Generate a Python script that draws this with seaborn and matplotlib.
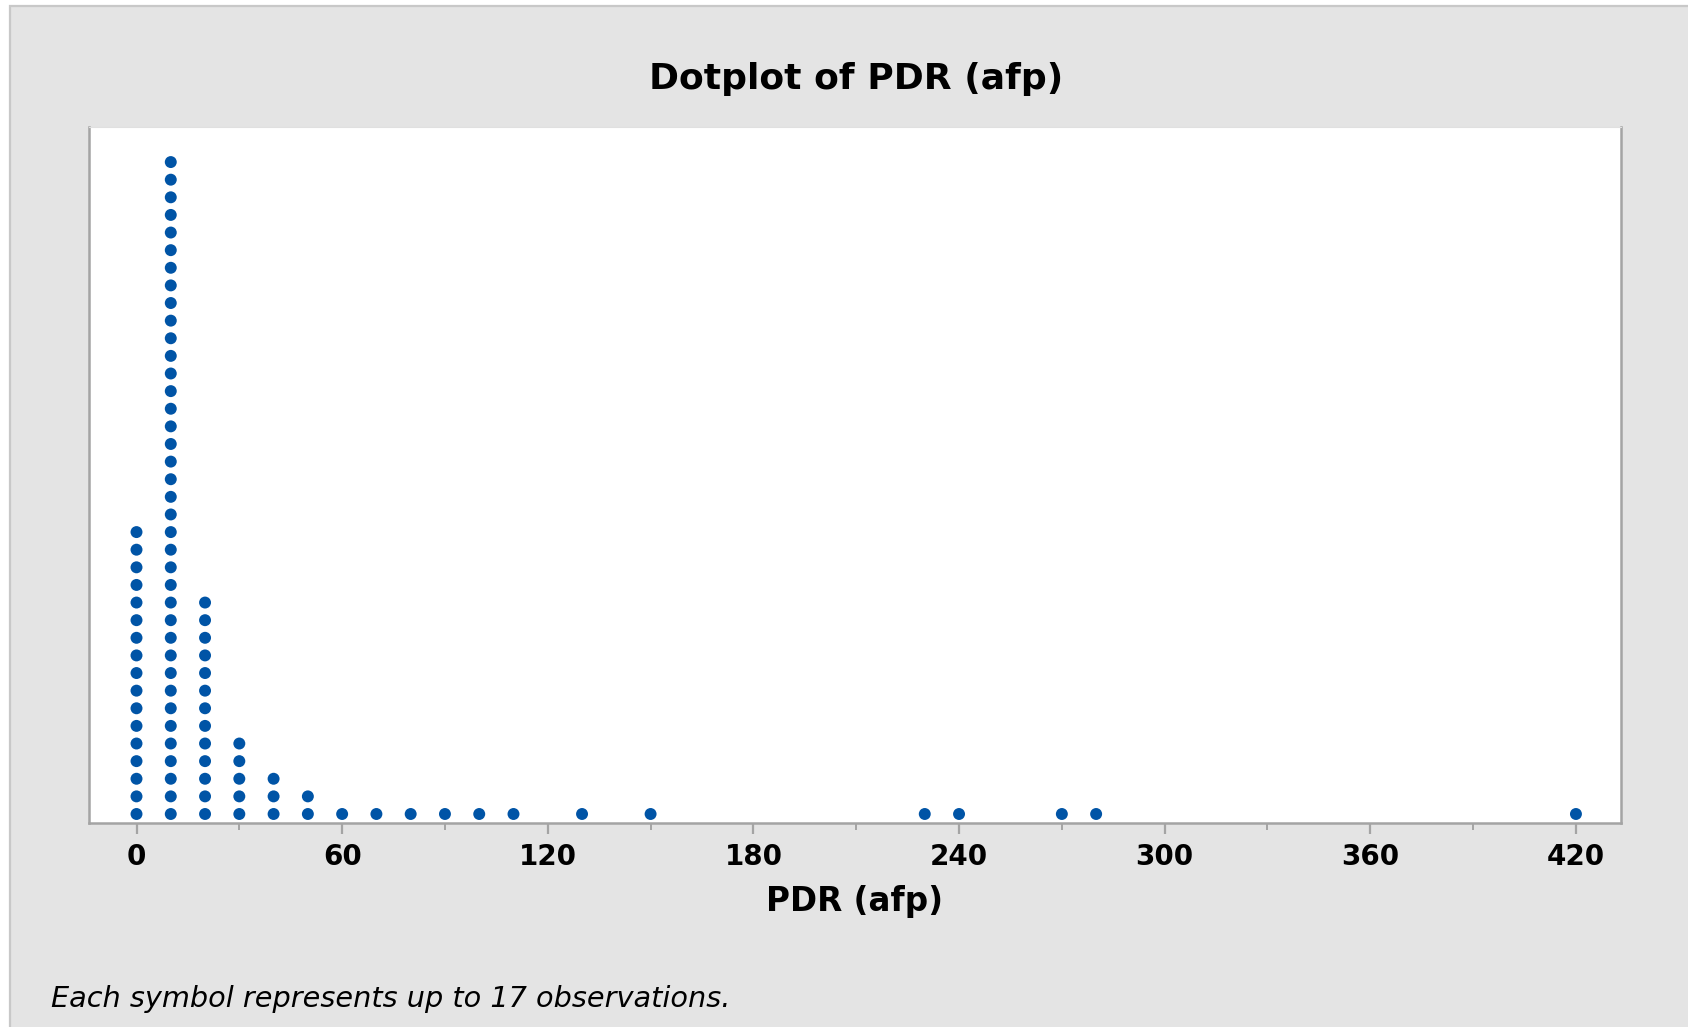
import numpy as np
import pandas as pd
import matplotlib
matplotlib.use("Agg")
import matplotlib.pyplot as plt
from matplotlib.patches import Rectangle
from matplotlib.ticker import MultipleLocator
import seaborn as sns

# ---- data (dot columns) ----
pdr_values = [0, 10, 20, 30, 40, 50, 60, 70, 80, 90, 100, 110, 130, 150, 230, 240, 270, 280, 420]
dot_counts = [17, 38, 13, 5, 3, 2, 1, 1, 1, 1, 1, 1, 1, 1, 1, 1, 1, 1, 1]
x_ticks = [0, 60, 120, 180, 240, 300, 360, 420]
title = "Dotplot of PDR (afp)"
x_label = "PDR (afp)"
footnote = "Each symbol represents up to 17 observations."

rows = []
for v, c in zip(pdr_values, dot_counts):
    for k in range(c):
        rows.append({"PDR": v, "level": k})
df = pd.DataFrame(rows)

sns.set_theme(style="white")
plt.rcParams["font.family"] = ["DejaVu Sans"]

W, H = 1688, 1027
fig = plt.figure(figsize=(W / 100, H / 100), dpi=100, facecolor="white")

# grey panel with light border (top and left)
panel = Rectangle((10 / W, -0.01), 1.02, (H - 6) / H + 0.01, transform=fig.transFigure,
                  facecolor="#E4E4E4", edgecolor="#C8C8C8", linewidth=1.6, zorder=0)
fig.add_artist(panel)

ax = fig.add_axes([89 / W, 1 - 823.3 / H, (1620.5 - 89) / W, (823.3 - 127) / H])
ax.set_facecolor("white")
ax.set_zorder(2)

sns.scatterplot(data=df, x="PDR", y="level", ax=ax, color="#0054A6", s=74,
                edgecolor="none", linewidth=0, legend=False, clip_on=False)

ax.set_xlim(-13.86, 433.0)
ax.set_ylim(-0.528, 38.99)
ax.set_xticks(x_ticks)
ax.xaxis.set_minor_locator(MultipleLocator(30))
ax.set_yticks([])
ax.set_xlabel("")
ax.set_ylabel("")

for side in ["left", "bottom", "right"]:
    ax.spines[side].set_visible(True)
    ax.spines[side].set_color("#A4A4A4")
    ax.spines[side].set_linewidth(1.8)
ax.spines["top"].set_visible(True)
ax.spines["top"].set_color("#E0E0E0")
ax.spines["top"].set_linewidth(0.8)

ax.tick_params(axis="x", which="major", length=8, width=1.6, color="#A4A4A4",
               direction="out", pad=6, labelsize=20, labelcolor="black", bottom=True)
ax.tick_params(axis="x", which="minor", length=5, width=1.4, color="#A4A4A4",
               direction="out", bottom=True)
for lab in ax.get_xticklabels():
    lab.set_fontweight("bold")

fig.text(856 / W, 1 - 89.3 / H, title, ha="center", va="baseline",
         fontsize=26, fontweight="bold", color="black")
fig.text(854.7 / W, 1 - 910.7 / H, x_label, ha="center", va="baseline",
         fontsize=23.5, fontweight="bold", color="black")
fig.text(50.6 / W, 1 - 1006.7 / H, footnote, ha="left", va="baseline",
         fontsize=20.7, style="italic", color="black", family=["DejaVu Sans"])

fig.savefig("out.png", dpi=100, facecolor=fig.get_facecolor())
